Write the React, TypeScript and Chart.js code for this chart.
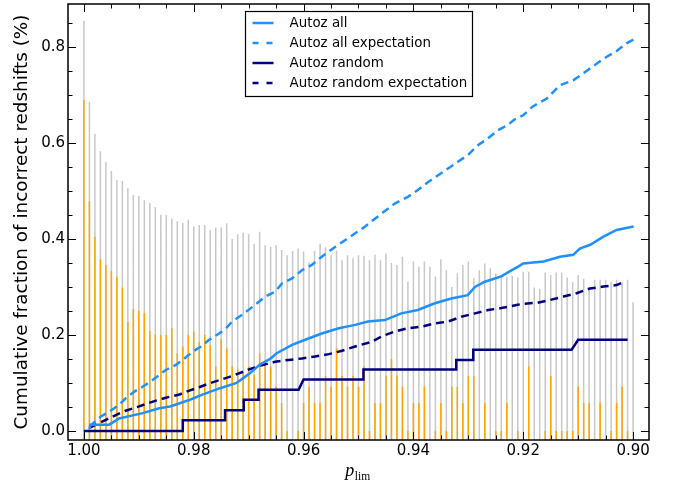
import React, { useEffect, useRef } from "react";
import { Chart, registerables } from "chart.js";

Chart.register(...registerables);

// ---- axis ranges & ticks ----
const X_MIN = 0.8971;
const X_MAX = 1.0029;
const Y_MIN = -0.019;
const Y_MAX = 0.89;
const xTickValues = [1.0, 0.98, 0.96, 0.94, 0.92, 0.9];
const yTickValues = [0.0, 0.2, 0.4, 0.6, 0.8];
const yTitle = "Cumulative fraction of incorrect redshifts (%)";

// ---- vertical bars (p_lim positions) ----
const barP = [
  1.000, 0.999, 0.998, 0.997, 0.996, 0.995, 0.994, 0.993, 0.992, 0.991,
  0.990, 0.989, 0.988, 0.987, 0.986, 0.985, 0.984, 0.983, 0.982, 0.981,
  0.980, 0.979, 0.978, 0.977, 0.976, 0.975, 0.974, 0.973, 0.972, 0.971,
  0.970, 0.969, 0.968, 0.967, 0.966, 0.965, 0.964, 0.963, 0.962, 0.961,
  0.960, 0.959, 0.958, 0.957, 0.956, 0.955, 0.954, 0.953, 0.952, 0.951,
  0.950, 0.949, 0.948, 0.947, 0.946, 0.945, 0.944, 0.943, 0.942, 0.941,
  0.940, 0.939, 0.938, 0.937, 0.936, 0.935, 0.934, 0.933, 0.932, 0.931,
  0.930, 0.929, 0.928, 0.927, 0.926, 0.925, 0.924, 0.923, 0.922, 0.921,
  0.920, 0.919, 0.918, 0.917, 0.916, 0.915, 0.914, 0.913, 0.912, 0.911,
  0.910, 0.909, 0.908, 0.907, 0.906, 0.905, 0.904, 0.903, 0.902, 0.901,
  0.900,
];

const grayTop = [
  0.855, 0.686, 0.619, 0.583, 0.560, 0.542, 0.523, 0.521, 0.506, 0.492,
  0.490, 0.481, 0.475, 0.467, 0.450, 0.450, 0.443, 0.437, 0.434, 0.440,
  0.426, 0.429, 0.429, 0.419, 0.424, 0.424, 0.433, 0.400, 0.410, 0.413,
  0.410, 0.390, 0.415, 0.387, 0.384, 0.387, 0.377, 0.366, 0.375, 0.380,
  0.374, 0.351, 0.375, 0.390, 0.383, 0.366, 0.376, 0.356, 0.366, 0.360,
  0.366, 0.365, 0.356, 0.367, 0.356, 0.370, 0.350, 0.346, 0.363, 0.311,
  0.353, 0.342, 0.353, 0.342, 0.322, 0.358, 0.335, 0.300, 0.328, 0.346,
  0.353, 0.318, 0.335, 0.349, 0.339, 0.328, 0.322, 0.322, 0.323, 0.320,
  0.332, 0.332, 0.299, 0.296, 0.330, 0.325, 0.330, 0.330, 0.320, 0.310,
  0.325, 0.317, 0.300, 0.315, 0.315, 0.315, 0.311, 0.315, 0.311, 0.315,
  0.268,
];

const orangeTop = [
  0.690, 0.479, 0.405, 0.358, 0.346, 0.333, 0.321, 0.299, 0.227, 0.254,
  0.250, 0.246, 0.208, 0.201, 0.200, 0.200, 0.214, 0.162, 0.176, 0.200,
  0.207, 0.186, 0.200, 0.179, 0.134, 0.191, 0.172, 0.134, 0.128, 0.124,
  0.134, 0.117, 0.162, 0.146, 0.134, 0.092, 0.058, 0.000, null, 0.000,
  0.058, 0.092, 0.058, 0.058, 0.115, 0.092, 0.172, 0.115, 0.092, 0.115,
  0.092, 0.134, 0.000, 0.058, 0.058, 0.115, 0.150, 0.115, 0.092, 0.000,
  0.058, 0.058, 0.092, null, 0.000, 0.058, 0.000, 0.092, 0.092, 0.058,
  0.115, 0.115, null, 0.058, null, 0.000, 0.000, 0.058, null, 0.000,
  null, 0.134, null, null, 0.000, 0.115, 0.000, 0.000, 0.000, 0.000,
  0.092, 0.058, 0.058, null, 0.058, null, 0.000, 0.058, 0.092, 0.000,
  null,
];

// ---- Autoz all ----
const allP = [
  0.9990, 0.9988, 0.9954, 0.9936, 0.9893, 0.9863, 0.9843, 0.9807, 0.9783, 0.9752,
  0.9722, 0.9710, 0.9698, 0.9680, 0.9661, 0.9649, 0.9620, 0.9597, 0.9567, 0.9536,
  0.9506, 0.9483, 0.9452, 0.9422, 0.9392, 0.9361, 0.9331, 0.9301, 0.9288, 0.9270,
  0.9240, 0.9224, 0.9210, 0.9200, 0.9163, 0.9133, 0.9109, 0.9097, 0.9078, 0.9054,
  0.9030, 0.8999,
];
const allV = [
  0.004, 0.013, 0.013, 0.026, 0.037, 0.047, 0.051, 0.065, 0.076, 0.089,
  0.100, 0.110, 0.120, 0.138, 0.150, 0.162, 0.180, 0.190, 0.203, 0.214,
  0.221, 0.228, 0.231, 0.245, 0.252, 0.266, 0.276, 0.283, 0.300, 0.311,
  0.322, 0.333, 0.342, 0.349, 0.353, 0.363, 0.367, 0.380, 0.388, 0.405,
  0.419, 0.426,
];

// ---- Autoz all expectation ----
const allExpP = [
  0.9990, 0.9969, 0.9954, 0.9936, 0.9924, 0.9908, 0.9893, 0.9875, 0.9851, 0.9832,
  0.9817, 0.9802, 0.9787, 0.9772, 0.9754, 0.9741, 0.9730, 0.9712, 0.9688, 0.9670,
  0.9652, 0.9639, 0.9621, 0.9603, 0.9585, 0.9567, 0.9542, 0.9524, 0.9506, 0.9488,
  0.9475, 0.9458, 0.9434, 0.9410, 0.9392, 0.9373, 0.9355, 0.9337, 0.9319, 0.9301,
  0.9282, 0.9264, 0.9246, 0.9228, 0.9216, 0.9200, 0.9182, 0.9157, 0.9133, 0.9109,
  0.9091, 0.9066, 0.9048, 0.9030, 0.9012, 0.8999,
];
const allExpV = [
  0.009, 0.030, 0.040, 0.054, 0.068, 0.082, 0.092, 0.106, 0.127, 0.138,
  0.151, 0.165, 0.176, 0.190, 0.203, 0.214, 0.228, 0.242, 0.263, 0.280,
  0.290, 0.308, 0.318, 0.335, 0.346, 0.363, 0.384, 0.398, 0.412, 0.426,
  0.438, 0.453, 0.474, 0.488, 0.502, 0.519, 0.533, 0.547, 0.561, 0.575,
  0.596, 0.610, 0.627, 0.638, 0.649, 0.658, 0.677, 0.693, 0.721, 0.731,
  0.745, 0.766, 0.780, 0.792, 0.808, 0.816,
];

// ---- Autoz random ----
const randP = [
  1.0000, 0.9820, 0.9820, 0.9743, 0.9743, 0.9709, 0.9709, 0.9682, 0.9682, 0.9609,
  0.9600, 0.9491, 0.9491, 0.9322, 0.9322, 0.9291, 0.9291, 0.9112, 0.9100, 0.9010,
];
const randV = [
  0.000, 0.000, 0.022, 0.022, 0.043, 0.043, 0.065, 0.065, 0.086, 0.086,
  0.107, 0.107, 0.128, 0.128, 0.148, 0.148, 0.169, 0.169, 0.190, 0.190,
];

// ---- Autoz random expectation ----
const randExpP = [
  0.9990, 0.9978, 0.9960, 0.9942, 0.9924, 0.9905, 0.9887, 0.9869, 0.9851, 0.9826,
  0.9808, 0.9790, 0.9772, 0.9747, 0.9724, 0.9700, 0.9676, 0.9652, 0.9627, 0.9603,
  0.9579, 0.9554, 0.9530, 0.9506, 0.9475, 0.9458, 0.9434, 0.9410, 0.9386, 0.9361,
  0.9337, 0.9313, 0.9288, 0.9264, 0.9240, 0.9210, 0.9200, 0.9175, 0.9151, 0.9127,
  0.9103, 0.9078, 0.9054, 0.9030, 0.9018,
];
const randExpV = [
  0.006, 0.013, 0.023, 0.033, 0.042, 0.049, 0.056, 0.063, 0.069, 0.076,
  0.084, 0.091, 0.099, 0.108, 0.117, 0.128, 0.137, 0.144, 0.148, 0.151,
  0.155, 0.160, 0.167, 0.176, 0.186, 0.197, 0.207, 0.214, 0.217, 0.224,
  0.228, 0.238, 0.245, 0.252, 0.256, 0.263, 0.265, 0.267, 0.273, 0.280,
  0.287, 0.297, 0.301, 0.304, 0.310,
];

const LIGHT = "#1E90FF";
const NAVY = "#000080";
const ORANGE = "#FFA500";
const GRAY = "#C8C8C8";

function pts(xs: number[], ys: number[]) {
  return xs.map((x, i) => ({ x, y: ys[i] }));
}

// vertical segments from below the axis up to each value, broken by gaps
function stems(xs: number[], tops: (number | null)[], base: number) {
  const out: { x: number; y: number | null }[] = [];
  xs.forEach((x, i) => {
    const t = tops[i];
    if (t === null || t === undefined) return;
    out.push({ x, y: base }, { x, y: t }, { x, y: null });
  });
  return out;
}

const frameTicksPlugin = {
  id: "frameTicks",
  afterDatasetsDraw(chart: any) {
    const { ctx, chartArea: a, scales } = chart;
    const x = scales.x;
    const y = scales.y;
    ctx.save();
    ctx.strokeStyle = "#000";
    ctx.lineWidth = 1;
    for (let k = 0; k <= 20; k++) {
      const v = 0.9 + 0.005 * k;
      const px = Math.round(x.getPixelForValue(v)) + 0.5;
      const len = k % 4 === 0 ? 8 : 4.5;
      ctx.beginPath();
      ctx.moveTo(px, a.bottom);
      ctx.lineTo(px, a.bottom - len);
      ctx.moveTo(px, a.top);
      ctx.lineTo(px, a.top + len);
      ctx.stroke();
    }
    for (let k = 0; k <= 17; k++) {
      const v = 0.05 * k;
      const py = Math.round(y.getPixelForValue(v)) + 0.5;
      const len = k % 4 === 0 ? 8 : 4.5;
      ctx.beginPath();
      ctx.moveTo(a.left, py);
      ctx.lineTo(a.left + len, py);
      ctx.moveTo(a.right, py);
      ctx.lineTo(a.right - len, py);
      ctx.stroke();
    }
    ctx.lineWidth = 1.5;
    ctx.strokeRect(a.left, a.top, a.right - a.left, a.bottom - a.top);
    ctx.restore();
  },
};

const legendPlugin = {
  id: "boxLegend",
  afterDraw(chart: any) {
    const { ctx, chartArea: a } = chart;
    const items = chart.data.datasets.filter((d: any) => d.label);
    const w = 227;
    const h = 85;
    const left = Math.round((a.left + a.right) / 2 - w / 2) + 0.5;
    const top = a.top + 7.5;
    ctx.save();
    ctx.fillStyle = "#fff";
    ctx.fillRect(left, top, w, h);
    ctx.strokeStyle = "#000";
    ctx.lineWidth = 1.2;
    ctx.strokeRect(left, top, w, h);
    ctx.font = "13.4px 'DejaVu Sans'";
    ctx.textBaseline = "middle";
    ctx.textAlign = "left";
    items.forEach((d: any, i: number) => {
      const cy = top + 11.5 + 20 * i;
      ctx.strokeStyle = d.borderColor;
      ctx.lineWidth = 2.5;
      ctx.setLineDash(d.borderDash && d.borderDash.length ? [6, 8] : []);
      ctx.beginPath();
      ctx.moveTo(left + 7, cy);
      ctx.lineTo(left + 28, cy);
      ctx.stroke();
      ctx.setLineDash([]);
      ctx.fillStyle = "#000";
      ctx.fillText(d.label, left + 44, cy + 0.5);
    });
    ctx.restore();
  },
};

const xTitlePlugin = {
  id: "xTitle",
  afterDraw(chart: any) {
    const { ctx, chartArea: a } = chart;
    ctx.save();
    ctx.fillStyle = "#000";
    ctx.textBaseline = "alphabetic";
    ctx.textAlign = "left";
    const fp = "italic 18px 'Liberation Serif'";
    const fs = "11.5px 'Liberation Serif'";
    ctx.font = fp;
    const wp = ctx.measureText("p").width;
    ctx.font = fs;
    const ws = ctx.measureText("lim").width;
    const cx = (a.left + a.right) / 2;
    const start = cx - (wp + ws) / 2 - 1;
    ctx.font = fp;
    ctx.fillText("p", start, a.bottom + 36);
    ctx.font = fs;
    ctx.fillText("lim", start + wp + 0.5, a.bottom + 40);
    ctx.restore();
  },
};

export default function App() {
  const ref = useRef<HTMLCanvasElement | null>(null);

  useEffect(() => {
    if (!ref.current) return;
    const base = Y_MIN - 0.02;

    const lineCommon = {
      type: "line" as const,
      fill: false,
      pointRadius: 0,
      borderWidth: 2.5,
      tension: 0,
      order: 0,
      clip: 0,
    };
    const stemCommon = {
      type: "line" as const,
      fill: false,
      pointRadius: 0,
      borderWidth: 1.5,
      borderCapStyle: "butt",
      tension: 0,
      spanGaps: false,
      clip: 0,
    };

    const chart = new Chart(ref.current, {
      type: "line",
      data: {
        datasets: [
          {
            ...stemCommon,
            data: stems(barP, grayTop, base),
            borderColor: GRAY,
            order: 3,
          } as any,
          {
            ...stemCommon,
            data: stems(barP, orangeTop, base),
            borderColor: ORANGE,
            order: 2,
          } as any,
          {
            ...lineCommon,
            label: "Autoz all",
            data: pts(allP, allV),
            borderColor: LIGHT,
            borderDash: [],
          } as any,
          {
            ...lineCommon,
            label: "Autoz all expectation",
            data: pts(allExpP, allExpV),
            borderColor: LIGHT,
            borderDash: [8, 5],
          } as any,
          {
            ...lineCommon,
            label: "Autoz random",
            data: pts(randP, randV),
            borderColor: NAVY,
            borderDash: [],
          } as any,
          {
            ...lineCommon,
            label: "Autoz random expectation",
            data: pts(randExpP, randExpV),
            borderColor: NAVY,
            borderDash: [8, 5],
          } as any,
        ],
      },
      options: {
        animation: false,
        responsive: true,
        maintainAspectRatio: false,
        events: [],
        layout: { padding: { top: 4, right: 27, left: 0, bottom: 0 } },
        plugins: {
          legend: { display: false },
          tooltip: { enabled: false },
        },
        scales: {
          x: {
            type: "linear",
            reverse: true,
            min: X_MIN,
            max: X_MAX,
            offset: false,
            grid: { display: false, drawTicks: false },
            border: { display: false },
            afterBuildTicks: (scale: any) => {
              scale.ticks = xTickValues.map((v) => ({ value: v }));
            },
            afterFit: (scale: any) => {
              scale.height = 49;
              scale.paddingLeft = 0;
              scale.paddingRight = 0;
            },
            ticks: {
              autoSkip: false,
              maxRotation: 0,
              padding: 2,
              color: "#000",
              font: { family: "'DejaVu Sans'", size: 15 },
              callback: (v: any) => Number(v).toFixed(2),
            },
          },
          y: {
            type: "linear",
            min: Y_MIN,
            max: Y_MAX,
            grid: { display: false, drawTicks: false },
            border: { display: false },
            afterBuildTicks: (scale: any) => {
              scale.ticks = yTickValues.map((v) => ({ value: v }));
            },
            afterFit: (scale: any) => {
              scale.width = 68;
              scale.paddingTop = 0;
              scale.paddingBottom = 0;
            },
            ticks: {
              autoSkip: false,
              padding: 3,
              color: "#000",
              font: { family: "'DejaVu Sans'", size: 15 },
              callback: (v: any) => Number(v).toFixed(1),
            },
            title: {
              display: true,
              text: yTitle,
              color: "#000",
              font: { family: "'DejaVu Sans'", size: 18.4 },
              padding: { top: 11, bottom: 0 },
            },
          },
        },
      } as any,
      plugins: [frameTicksPlugin, legendPlugin, xTitlePlugin],
    });
    return () => chart.destroy();
  }, []);

  return (
    <div style={{ position: "fixed", left: 0, top: 0, width: 676, height: 489, background: "#fff" }}>
      <canvas ref={ref} />
    </div>
  );
}
